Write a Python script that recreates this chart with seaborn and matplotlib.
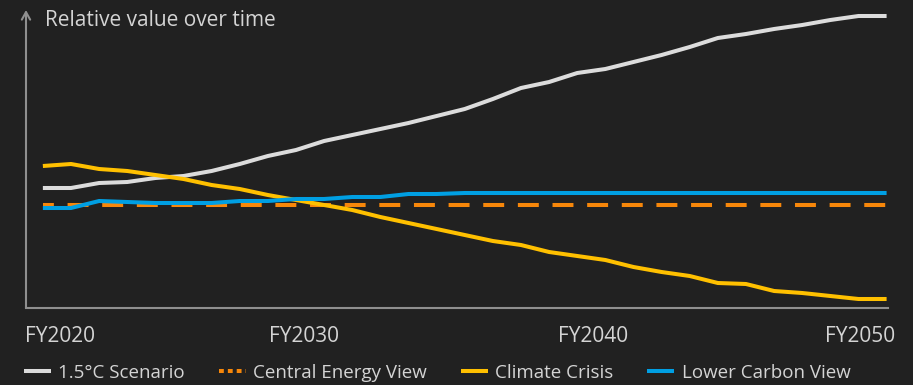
import numpy as np
import pandas as pd
import seaborn as sns
import matplotlib.pyplot as plt
from matplotlib.lines import Line2D

# data (relative units)
years = list(range(2020, 2051))
scenario_15 = [120, 120, 125, 126, 130, 132, 137, 144, 152, 158, 167, 173, 179, 185, 192, 199,
               209, 220, 226, 235, 239, 246, 253, 261, 270, 274, 279, 283, 288, 292, 292]
central_view = [103] * 31
climate_crisis = [142, 144, 139, 137, 133, 129, 123, 119, 113, 108, 103, 98, 91, 85, 79, 73,
                  67, 63, 56, 52, 48, 41, 36, 32, 25, 24, 17, 15, 12, 9, 9]
lower_carbon = [100, 100, 107, 106, 105, 105, 105, 107, 107, 109, 109, 111, 111, 114, 114, 115,
                115, 115, 115, 115, 115, 115, 115, 115, 115, 115, 115, 115, 115, 115, 115]
series_names = ['1.5°C Scenario', 'Central Energy View', 'Climate Crisis', 'Lower Carbon View']
tick_labels = ['FY2020', 'FY2030', 'FY2040', 'FY2050']

colors = {'1.5°C Scenario': '#dcdcdc', 'Central Energy View': '#f7870a',
          'Climate Crisis': '#ffc000', 'Lower Carbon View': '#009fe3'}
bg = '#212121'
text_col = '#d4d4d4'
axis_col = '#8f8f8f'

df = pd.DataFrame({
    'year': years * 4,
    'value': scenario_15 + central_view + climate_crisis + lower_carbon,
    'series': np.repeat(series_names, len(years)),
})

sns.set_theme(style='white')
plt.rcParams['font.family'] = ['Open Sans', 'DejaVu Sans']

fig = plt.figure(figsize=(9.13, 3.85), dpi=100, facecolor=bg)
ax = fig.add_axes([26 / 913, 77 / 385, 862 / 913, 298 / 385], facecolor=bg)

dashes = {'1.5°C Scenario': '', 'Central Energy View': (5.2, 3.4),
          'Climate Crisis': '', 'Lower Carbon View': ''}
sns.lineplot(data=df, x='year', y='value', hue='series', style='series',
             hue_order=series_names, style_order=series_names,
             palette=colors, dashes=dashes, linewidth=2.9, legend=False, ax=ax)
for ln in ax.lines:
    ln.set_solid_capstyle('butt')
    ln.set_dash_capstyle('butt')
    if ln.get_color() == colors['Central Energy View']:
        ln.set_linestyle((2.5, (5.2, 3.4)))

ax.set_xlim(2019.4, 2050.05)
ax.set_ylim(0, 298)
ax.set_xlabel('')
ax.set_ylabel('')
ax.set_yticks([])
ax.set_xticks([2020.6, 2029.3, 2039.55, 2049.05])
ax.set_xticklabels(tick_labels)
ax.tick_params(axis='x', length=0, pad=13, labelsize=15, labelcolor=text_col)

for s in ['top', 'right', 'left']:
    ax.spines[s].set_visible(False)
ax.spines['bottom'].set_color(axis_col)
ax.spines['bottom'].set_linewidth(1.5)

# y axis arrow
ax.annotate('', xy=(0, 1.0), xytext=(0, 0), xycoords='axes fraction',
            arrowprops=dict(arrowstyle='->,head_length=0.45,head_width=0.25',
                            color=axis_col, lw=1.5, shrinkA=0, shrinkB=0))

fig.text(45 / 913, 1 - 20 / 385, 'Relative value over time', color=text_col,
         fontsize=15, ha='left', va='center')

handles = [
    Line2D([], [], color=colors['1.5°C Scenario'], lw=2.9, solid_capstyle='butt'),
    Line2D([], [], color=colors['Central Energy View'], lw=2.9, linestyle=(0, (1.2, 1.0)),
           dash_capstyle='butt'),
    Line2D([], [], color=colors['Climate Crisis'], lw=2.9, solid_capstyle='butt'),
    Line2D([], [], color=colors['Lower Carbon View'], lw=2.9, solid_capstyle='butt'),
]
fig.legend(handles, series_names, loc='center left', bbox_to_anchor=(24 / 913, 1 - 373 / 385),
           ncol=4, frameon=False, fontsize=13.5, labelcolor=text_col,
           handlelength=1.44, handletextpad=0.4, columnspacing=1.8,
           borderpad=0, borderaxespad=0)

fig.savefig('out.png', dpi=100, facecolor=bg)
